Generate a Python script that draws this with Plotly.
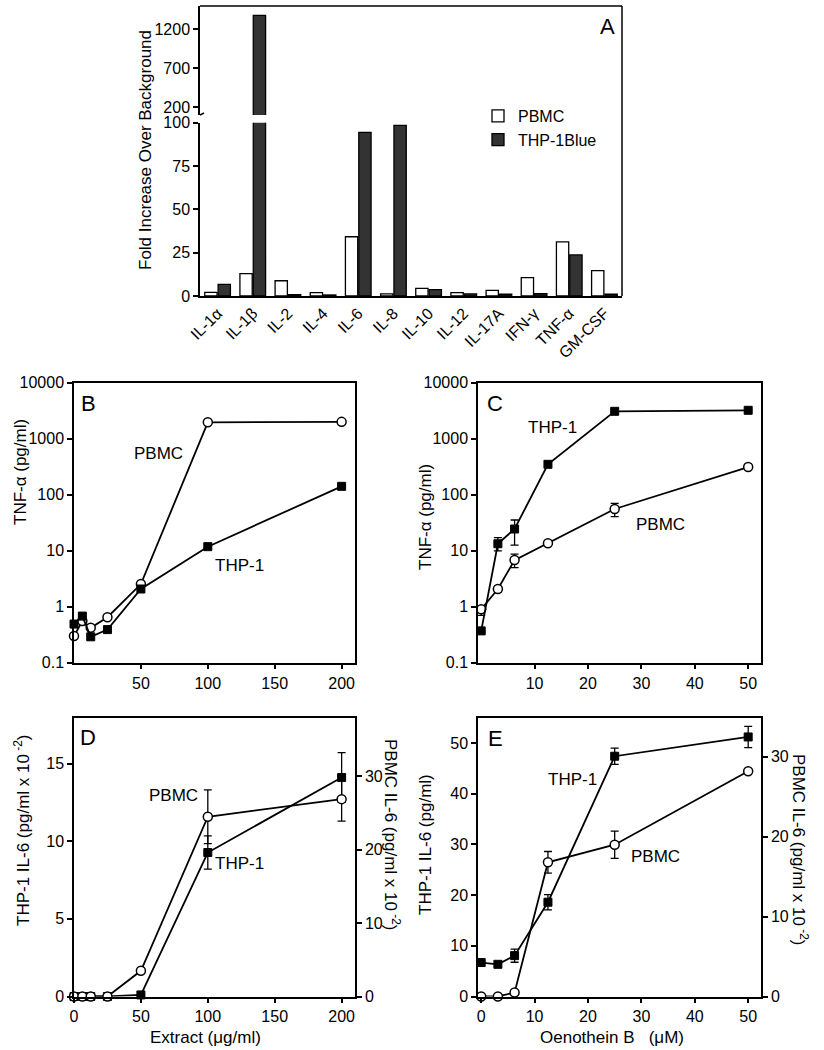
import plotly.graph_objects as go

W, H = 824, 1050
def px(x): return x / W
def py(y): return 1 - y / H

FONT = "Liberation Sans, Arial, Helvetica, sans-serif"

# ---------------- Panel A data ----------------
cytokines = ["IL-1α", "IL-1β", "IL-2", "IL-4", "IL-6", "IL-8", "IL-10", "IL-12",
             "IL-17A", "IFN-γ", "TNF-α", "GM-CSF"]
pbmc_fold = [2.1, 12.9, 8.8, 1.9, 34.2, 1.2, 4.4, 1.9, 3.3, 10.6, 31.2, 14.6]
thp_fold = [6.7, 1380, 0.8, 0.6, 94.4, 98.5, 3.7, 1.2, 1.0, 1.3, 23.7, 1.0]
BREAK = 100  # lower segment 0-100, upper segment 100-1500

# ---------------- Panel B data ----------------
b_x = [0, 6.25, 12.5, 25, 50, 100, 200]
b_pbmc = [0.30, 0.556, 0.42, 0.65, 2.54, 1960, 2000]
b_thp = [0.49, 0.68, 0.29, 0.39, 2.07, 11.8, 141]

# ---------------- Panel C data ----------------
c_x = [0, 3.125, 6.25, 12.5, 25, 50]
c_thp = [0.37, 13.3, 24.4, 349, 3085, 3215]
c_thp_up = [0, 3.8, 10.9, 0, 0, 0]
c_thp_dn = [0, 3.4, 11.8, 0, 0, 0]
c_pbmc = [0.9, 2.07, 6.8, 13.6, 55.6, 312]
c_pbmc_up = [0, 0, 1.9, 0, 14.6, 0]
c_pbmc_dn = [0.2, 0, 1.8, 0, 15.1, 0]

# ---------------- Panel D data ----------------
d_x = [0, 6.25, 12.5, 25, 50, 100, 200]
d_thp = [0, 0, 0, 0, 0.1, 9.27, 14.1]          # left axis (pg/ml x 10^-2)
d_thp_err = [0, 0, 0, 0, 0, 1.07, 1.6]
d_pbmc = [0, 0, 0, 0, 3.5, 24.5, 26.9]         # right axis
d_pbmc_err = [0, 0, 0, 0, 0, 3.65, 3.0]

# ---------------- Panel E data ----------------
e_x = [0, 3.125, 6.25, 12.5, 25, 50]
e_thp = [6.7, 6.35, 8.06, 18.6, 47.4, 51.2]    # left axis (pg/ml)
e_thp_err = [0, 0, 1.3, 1.5, 1.6, 2.1]
e_pbmc = [0, 0, 0.5, 16.8, 19.0, 28.2]         # right axis
e_pbmc_err = [0, 0, 0, 1.35, 1.7, 0]

fig = go.Figure()

# Panel A bars (lower and upper segment of broken axis)
pbmc_upper = [v if v > BREAK else None for v in pbmc_fold]
thp_upper = [v if v > BREAK else None for v in thp_fold]
for yax, show, pv, tv in (("y", True, pbmc_fold, thp_fold), ("y2", False, pbmc_upper, thp_upper)):
    fig.add_trace(go.Bar(x=cytokines, y=pv, name="PBMC", xaxis="x", yaxis=yax,
                         marker=dict(color="white", line=dict(color="black", width=1.3)),
                         showlegend=show))
    fig.add_trace(go.Bar(x=cytokines, y=tv, name="THP-1Blue", xaxis="x", yaxis=yax,
                         marker=dict(color="#333333", line=dict(color="black", width=1.3)),
                         showlegend=show))

line_style = dict(color="black", width=1.8)
circ = dict(symbol="circle", size=9, color="white", line=dict(color="black", width=1.5))
sq = dict(symbol="square", size=8, color="black", line=dict(color="black", width=1))

def err(arr, arrminus=None):
    d = dict(type="data", array=arr, visible=True, color="black", thickness=1.3, width=4)
    if arrminus is not None:
        d["arrayminus"] = arrminus
        d["symmetric"] = False
    return d

# Panel B
fig.add_trace(go.Scatter(x=b_x, y=b_pbmc, xaxis="x2", yaxis="y3", mode="lines+markers",
                         line=line_style, marker=circ, showlegend=False, cliponaxis=False))
fig.add_trace(go.Scatter(x=b_x, y=b_thp, xaxis="x2", yaxis="y3", mode="lines+markers",
                         line=line_style, marker=sq, showlegend=False, cliponaxis=False))
# Panel C
fig.add_trace(go.Scatter(x=c_x, y=c_pbmc, xaxis="x3", yaxis="y4", mode="lines+markers",
                         line=line_style, marker=circ, error_y=err(c_pbmc_up, c_pbmc_dn),
                         showlegend=False, cliponaxis=False))
fig.add_trace(go.Scatter(x=c_x, y=c_thp, xaxis="x3", yaxis="y4", mode="lines+markers",
                         line=line_style, marker=sq, error_y=err(c_thp_up, c_thp_dn),
                         showlegend=False, cliponaxis=False))
# Panel D
fig.add_trace(go.Scatter(x=d_x, y=d_thp, xaxis="x4", yaxis="y5", mode="lines+markers",
                         line=line_style, marker=sq, error_y=err(d_thp_err),
                         showlegend=False, cliponaxis=False))
fig.add_trace(go.Scatter(x=d_x, y=d_pbmc, xaxis="x4", yaxis="y6", mode="lines+markers",
                         line=line_style, marker=circ, error_y=err(d_pbmc_err),
                         showlegend=False, cliponaxis=False))
# Panel E
fig.add_trace(go.Scatter(x=e_x, y=e_thp, xaxis="x5", yaxis="y7", mode="lines+markers",
                         line=line_style, marker=sq, error_y=err(e_thp_err),
                         showlegend=False, cliponaxis=False))
fig.add_trace(go.Scatter(x=e_x, y=e_pbmc, xaxis="x5", yaxis="y8", mode="lines+markers",
                         line=line_style, marker=circ, error_y=err(e_pbmc_err),
                         showlegend=False, cliponaxis=False))

TICKFONT = dict(family=FONT, size=16, color="black")
base = dict(showline=True, linecolor="black", linewidth=1.5, ticks="outside", ticklen=5,
            tickwidth=1.5, tickcolor="black", showgrid=False, zeroline=False,
            automargin=False, tickfont=TICKFONT)

Bdom_x = [px(74), px(355)]
Cdom_x = [px(478), px(761)]
top_dom = [py(662.7), py(382.7)]
bot_dom = [py(996.5), py(717.7)]

logticks = [0.1, 1, 10, 100, 1000, 10000]
logtext = ["0.1", "1", "10", "100", "1000", "10000"]

fig.update_layout(
    template="none",
    width=W, height=H, margin=dict(l=0, r=0, t=0, b=0, pad=0, autoexpand=False),
    paper_bgcolor="white", plot_bgcolor="white",
    font=dict(family=FONT, size=16, color="black"),
    barmode="group", bargap=0.24, bargroupgap=0.08,
    legend=dict(x=px(478), y=py(99), xanchor="left", yanchor="top",
                font=dict(family=FONT, size=16, color="black"),
                bgcolor="rgba(0,0,0,0)", borderwidth=0, tracegroupgap=0),
    # Panel A
    xaxis=dict(domain=[px(200), px(622)], anchor="y", showline=True, linecolor="black",
               linewidth=1.5, ticks="", tickangle=-45, showgrid=False, automargin=False,
               tickfont=TICKFONT),
    yaxis=dict(base, domain=[py(296), py(122.7)], range=[0, BREAK], anchor="x",
               tickvals=[0, 25, 50, 75, 100]),
    yaxis2=dict(base, domain=[py(115), py(6)], range=[BREAK, 1500], anchor="x",
                tickvals=[200, 700, 1200]),
    # Panel B
    xaxis2=dict(base, domain=Bdom_x, anchor="y3", range=[0, 210], tickvals=[50, 100, 150, 200],
                mirror=True),
    yaxis3=dict(base, domain=top_dom, anchor="x2", type="log", range=[-1, 4],
                tickvals=logticks, ticktext=logtext, mirror=True),
    # Panel C
    xaxis3=dict(base, domain=Cdom_x, anchor="y4", range=[-0.6, 52.4],
                tickvals=[10, 20, 30, 40, 50], mirror=True),
    yaxis4=dict(base, domain=top_dom, anchor="x3", type="log", range=[-1, 4],
                tickvals=logticks, ticktext=logtext, mirror=True),
    # Panel D
    xaxis4=dict(base, domain=Bdom_x, anchor="y5", range=[0, 210],
                tickvals=[0, 50, 100, 150, 200], mirror=True),
    yaxis5=dict(base, domain=bot_dom, anchor="x4", range=[0, 17.95], tickvals=[0, 5, 10, 15]),
    yaxis6=dict(base, domain=bot_dom, anchor="x4", overlaying="y5", side="right",
                range=[0, 38], tickvals=[0, 10, 20, 30]),
    # Panel E
    xaxis5=dict(base, domain=Cdom_x, anchor="y7", range=[-0.6, 52.4],
                tickvals=[0, 10, 20, 30, 40, 50], mirror=True),
    yaxis7=dict(base, domain=bot_dom, anchor="x5", range=[0, 55], tickvals=[0, 10, 20, 30, 40, 50]),
    yaxis8=dict(base, domain=bot_dom, anchor="x5", overlaying="y7", side="right",
                range=[0, 34.9], tickvals=[0, 10, 20, 30]),
)

# Frame for panel A (top and right edges, continuous across the break)
fig.add_shape(type="line", xref="paper", yref="paper", x0=px(200), x1=px(622),
              y0=py(6), y1=py(6), line=dict(color="black", width=1.5))
fig.add_shape(type="line", xref="paper", yref="paper", x0=px(622), x1=px(622),
              y0=py(6), y1=py(296), line=dict(color="black", width=1.5))
# small break hook on the left axis
fig.add_shape(type="line", xref="paper", yref="paper", x0=px(200), x1=px(204),
              y0=py(115), y1=py(113), line=dict(color="black", width=1.5))

def ann(text, x, y, size=17, angle=0, xanchor="center", yanchor="middle"):
    fig.add_annotation(text=text, x=px(x), y=py(y), xref="paper", yref="paper",
                       showarrow=False, textangle=angle, xanchor=xanchor, yanchor=yanchor,
                       font=dict(family=FONT, size=size, color="black"))

# Panel letters
ann("A", 607, 27, size=22)
ann("B", 88, 403, size=22)
ann("C", 495, 403, size=22)
ann("D", 88, 737, size=22)
ann("E", 495, 738, size=22)

# Series labels inside panels
ann("PBMC", 158, 453)
ann("THP-1", 240, 565)
ann("THP-1", 552, 428)
ann("PBMC", 660, 524)
ann("PBMC", 173, 795)
ann("THP-1", 240, 863)
ann("THP-1", 572, 779)
ann("PBMC", 655, 856)

# Axis titles
ann("Fold Increase Over Background", 146, 150, angle=-90)
ann("TNF-α (pg/ml)", 20, 472, angle=-90)
ann("TNF-α (pg/ml)", 425, 517, angle=-90)
ann("THP-1 IL-6 (pg/ml x 10<sup> -2</sup>)", 22, 830, angle=-90)
ann("PBMC IL-6 (pg/ml x 10<sup> -2</sup>)", 392, 835, angle=90)
ann("THP-1 IL-6 (pg/ml)", 425, 845, angle=-90)
ann("PBMC IL-6 (pg/ml x 10<sup> -2</sup>)", 800, 850, angle=90)
ann("Extract (μg/ml)", 205, 1037)
ann("Oenothein B\u00a0\u00a0\u00a0(μM)", 612, 1037)

fig.write_html("out.html", config={"displayModeBar": False},
               post_script="document.body.style.margin='0px';document.body.style.overflow='hidden';")
